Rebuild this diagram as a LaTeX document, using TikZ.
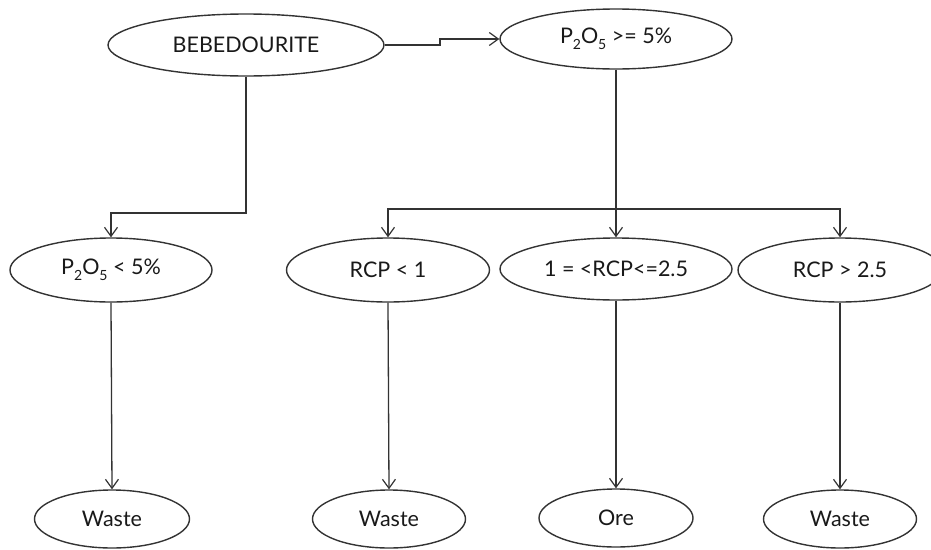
\documentclass[tikz,border=0pt]{standalone}
\usepackage{fontspec}
\setmainfont{Lato}
\usetikzlibrary{shapes.geometric,arrows.meta}
\newcommand{\lowsub}[1]{\raisebox{-6pt}{\fontsize{14}{14}\selectfont #1}}
\begin{document}
\begin{tikzpicture}[x=1pt,y=-1pt,
  every node/.style={font=\fontsize{21.5}{25}\selectfont, text=black!90},
  oval/.style={ellipse, draw=black!80, line width=1.4pt, inner sep=0pt},
  conn/.style={draw=black!80, line width=1.3pt},
  arr/.style={conn, -{Straight Barb[length=9pt,width=13pt,line width=1.2pt]}}]
\useasboundingbox (0,0) rectangle (931,549);
% top row
\node[oval, minimum width=276, minimum height=62] (bebe) at (246,45) {BEBEDOURITE};
\node[oval, minimum width=232, minimum height=60] (p5) at (616,39) {P\lowsub{2}O\lowsub{5} >= 5\%};
% middle row
\node[oval, minimum width=202, minimum height=64] (plow) at (111,270) {P\lowsub{2}O\lowsub{5} < 5\%};
\node[oval, minimum width=203, minimum height=64] (r1) at (388,270) {RCP < 1};
\node[oval, minimum width=232, minimum height=62] (r2) at (616,269) {1 = <RCP<=2.5};
\node[oval, minimum width=204, minimum height=64] (r3) at (840,270) {RCP > 2.5};
% bottom row
\node[oval, minimum width=155, minimum height=58] (w1) at (112,519) {Waste};
\node[oval, minimum width=153, minimum height=58] (w2) at (389,519) {Waste};
\node[oval, minimum width=154, minimum height=58] (ore) at (616,518) {Ore};
\node[oval, minimum width=153, minimum height=58] (w3) at (840,519) {Waste};
% helper coordinates
\coordinate (j) at (440,0);
\coordinate (h1) at (0,213);
\coordinate (h2) at (0,209);
% connectors
\draw[arr] (bebe.east) -- (bebe.east -| j) -- (j |- p5.west) -- (p5.west);
\draw[arr] (bebe.south) -- (bebe.south |- h1) -| (plow.north);
\draw[arr] (p5.south) -- (r2.north);
\draw[arr] (p5.south |- h2) -| (r1.north);
\draw[arr] (p5.south |- h2) -| (r3.north);
\draw[arr] (plow.south) -- (w1.north);
\draw[arr] (r1.south) -- (w2.north);
\draw[arr] (r2.south) -- (ore.north);
\draw[arr] (r3.south) -- (w3.north);
\end{tikzpicture}
\end{document}
